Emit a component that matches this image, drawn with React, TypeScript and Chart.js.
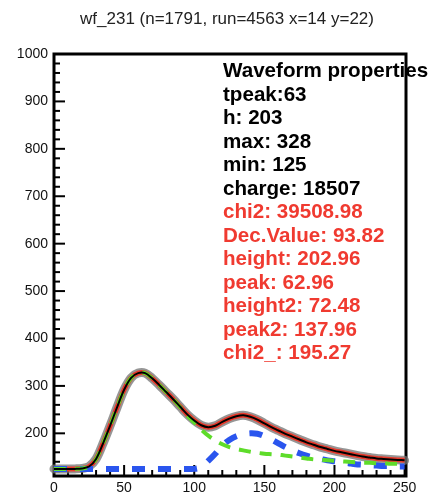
import React, { useEffect, useRef } from 'react';
import { Chart, registerables } from 'chart.js';

Chart.register(...registerables);

const TITLE = 'wf_231 (n=1791, run=4563 x=14 y=22)';

const samples = [
  0, 5, 10, 15, 20, 25, 30, 35, 40, 45, 50, 55, 60, 65, 70, 75, 80, 85, 90, 95,
  100, 105, 110, 115, 120, 125, 130, 135, 140, 145, 150, 155, 160, 165, 170, 175,
  180, 185, 190, 195, 200, 205, 210, 215, 220, 225, 230, 235, 240, 245, 250,
];

const waveform = [
  125, 125, 125, 125, 126, 130, 146, 179, 216, 255, 292, 317, 327, 327, 316, 302, 287, 272, 256, 240,
  227, 217, 213, 216, 224, 231, 236, 238, 235, 229, 221, 213, 206, 199, 193, 187,
  181, 176, 171, 167, 163, 160, 157, 154, 151, 149, 147, 146, 145, 144, 143,
];

const fitTotal = [
  125, 125, 125, 125, 126, 130, 146, 179, 216, 255, 292, 317, 327, 327, 316, 302, 287, 272, 256, 240,
  227, 217, 213, 216, 224, 231, 236, 238, 235, 229, 221, 213, 206, 199, 193, 187,
  181, 176, 171, 167, 163, 160, 157, 154, 151, 149, 147, 146, 145, 144, 143,
];

const fitPulse1 = [
  125, 125, 125, 125, 126, 130, 146, 179, 216, 255, 292, 317, 327, 327, 316, 302, 287, 272, 255, 238,
  223, 208, 195, 185, 177, 171, 167, 164, 161, 159, 157, 156, 155, 153, 151, 149,
  147, 145, 144, 143, 142, 141, 140, 139, 138, 138, 137, 137, 136, 136, 135,
];

const fitPulse2 = [
  125, 125, 125, 125, 125, 125, 125, 125, 125, 125, 125, 125, 125, 125, 125, 125, 125, 125, 125, 125,
  125, 129, 142, 157, 174, 186, 194, 198, 200, 199, 194, 187, 179, 171, 164, 158,
  153, 149, 146, 143, 141, 139, 137, 135, 134, 133, 132, 131, 131, 130, 130,
];

const xTickLabels = [0, 50, 100, 150, 200, 250];
const yTickLabels = [200, 300, 400, 500, 600, 700, 800, 900, 1000];

const infoBlack = ['Waveform properties', 'tpeak:63', 'h: 203', 'max: 328', 'min: 125', 'charge: 18507'];
const infoRed = [
  'chi2: 39508.98',
  'Dec.Value: 93.82',
  'height: 202.96',
  'peak: 62.96',
  'height2: 72.48',
  'peak2: 137.96',
  'chi2_: 195.27',
];

const FONT = '"Liberation Sans", Arial, Helvetica, sans-serif';
const RED = '#f03a30';

const toPoints = (ys: number[]) => samples.map((x, i) => ({ x, y: ys[i] }));

const framePlugin = {
  id: 'rootFrame',
  beforeDatasetsDraw(chart: any) {
    const { ctx, chartArea: a, scales } = chart;
    ctx.save();
    ctx.strokeStyle = '#000';
    ctx.lineWidth = 2;
    for (let v = 0; v <= 250; v += 10) {
      const px = scales.x.getPixelForValue(v);
      const len = v % 50 === 0 ? 11 : 6;
      ctx.beginPath();
      ctx.moveTo(px, a.bottom);
      ctx.lineTo(px, a.bottom - len);
      ctx.stroke();
    }
    for (let v = 120; v <= 1000; v += 20) {
      const py = scales.y.getPixelForValue(v);
      const len = v % 100 === 0 ? 11 : 6;
      ctx.beginPath();
      ctx.moveTo(a.left, py);
      ctx.lineTo(a.left + len, py);
      ctx.stroke();
    }
    ctx.lineWidth = 3;
    ctx.strokeRect(a.left, a.top, a.right - a.left, a.bottom - a.top);
    ctx.restore();
  },
  afterDraw(chart: any) {
    const { ctx } = chart;
    ctx.save();
    ctx.font = `17px ${FONT}`;
    ctx.fillStyle = '#222';
    ctx.textAlign = 'center';
    ctx.textBaseline = 'alphabetic';
    ctx.fillText(TITLE, 227, 24);
    ctx.font = `bold 20.6px ${FONT}`;
    ctx.textAlign = 'left';
    const lines = [...infoBlack, ...infoRed];
    lines.forEach((t, i) => {
      ctx.fillStyle = i < infoBlack.length ? '#000' : RED;
      ctx.fillText(t, 223, 77 + i * 23.5);
    });
    ctx.restore();
  },
};

export default function App() {
  const ref = useRef<HTMLCanvasElement | null>(null);
  useEffect(() => {
    if (!ref.current) return;
    const chart = new Chart(ref.current, {
      type: 'line',
      data: {
        datasets: [
          {
            label: 'waveform',
            data: toPoints(waveform),
            borderColor: '#000',
            borderWidth: 2,
            order: 0,
          },
          {
            label: 'pulse1',
            data: toPoints(fitPulse1),
            borderColor: '#5edc2a',
            borderWidth: 4,
            borderDash: [12, 9],
            order: 1,
          },
          {
            label: 'pulse2',
            data: toPoints(fitPulse2),
            borderColor: '#2a55ee',
            borderWidth: 6,
            borderDash: [13, 13],
            order: 2,
          },
          {
            label: 'fit',
            data: toPoints(fitTotal),
            borderColor: '#e8392b',
            borderWidth: 5,
            order: 3,
          },
          {
            label: 'shadow',
            data: toPoints(waveform),
            borderColor: 'rgba(115,115,115,0.75)',
            borderWidth: 9,
            borderCapStyle: 'round',
            clip: false,
            order: 4,
          },
        ] as any,
      },
      options: {
        animation: false,
        responsive: false,
        layout: { padding: { top: 54, right: 29, left: 0, bottom: 0 } },
        elements: {
          point: { radius: 0 },
          line: { tension: 0.35, fill: false },
        },
        plugins: {
          legend: { display: false },
          title: { display: false },
          tooltip: { enabled: false },
        },
        scales: {
          x: {
            type: 'linear',
            min: 0,
            max: 251,
            grid: { display: false, drawTicks: false },
            border: { display: false },
            afterBuildTicks: (s: any) => {
              s.ticks = xTickLabels.map((v) => ({ value: v }));
            },
            afterFit: (s: any) => {
              s.height = 18;
            },
            ticks: {
              autoSkip: false,
              maxRotation: 0,
              padding: 4,
              color: '#111',
              font: { family: FONT, size: 14 },
              callback: (v: any) => String(v),
            },
          },
          y: {
            type: 'linear',
            min: 110,
            max: 1000,
            grid: { display: false, drawTicks: false },
            border: { display: false },
            afterBuildTicks: (s: any) => {
              s.ticks = yTickLabels.map((v) => ({ value: v }));
            },
            afterFit: (s: any) => {
              s.width = 54;
            },
            ticks: {
              autoSkip: false,
              padding: 6,
              color: '#111',
              font: { family: FONT, size: 14 },
              callback: (v: any) => String(v),
            },
          },
        },
      } as any,
      plugins: [framePlugin],
    });
    return () => chart.destroy();
  }, []);
  return (
    <div style={{ position: 'absolute', left: 0, top: 0, width: 435, height: 494, background: '#fff' }}>
      <canvas ref={ref} width={435} height={494} />
    </div>
  );
}
